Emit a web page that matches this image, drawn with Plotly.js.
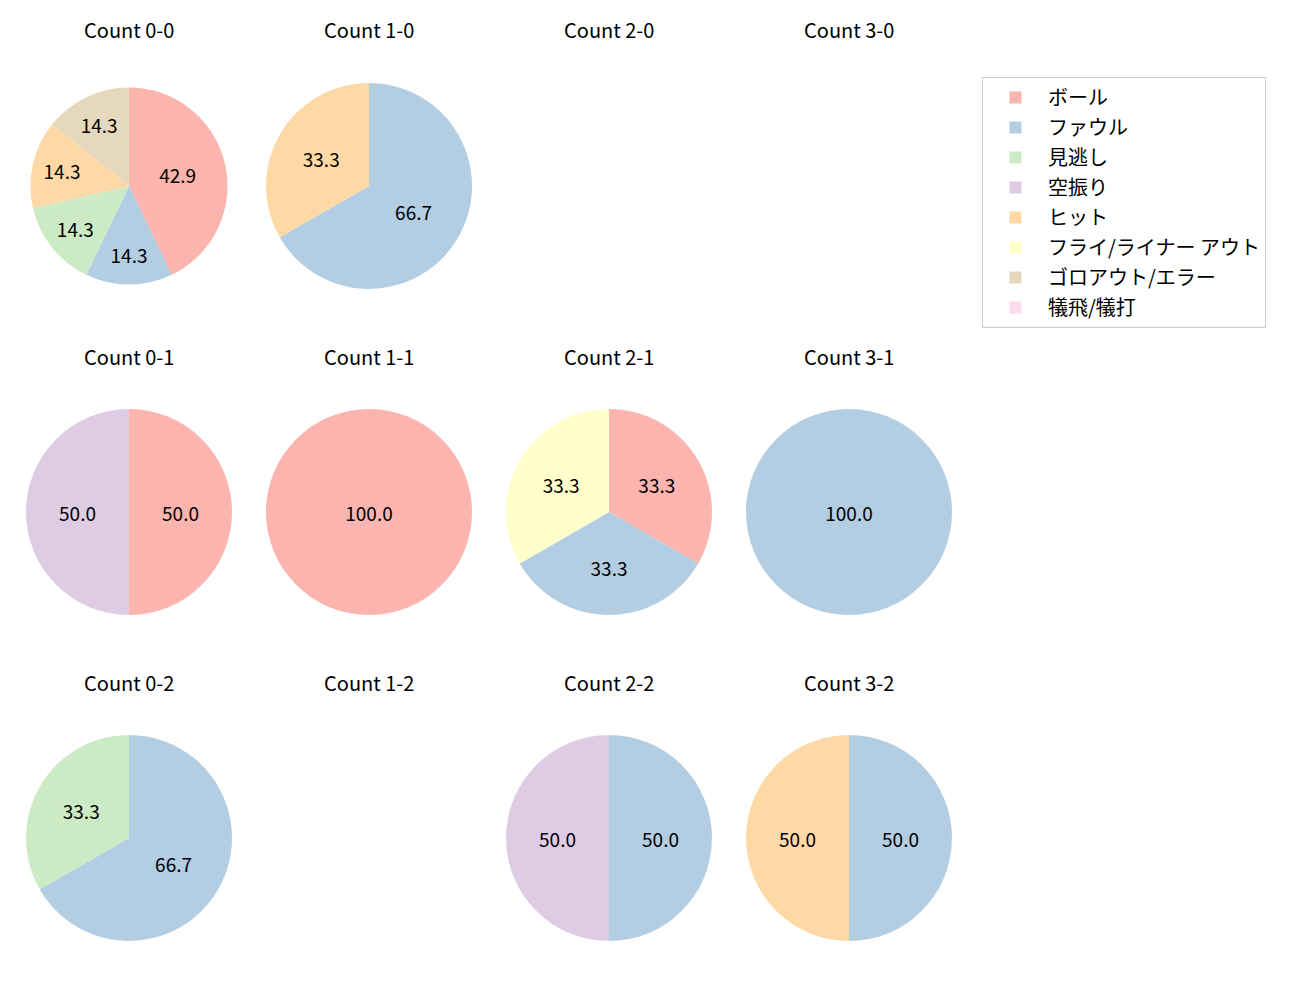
<!DOCTYPE html>
<html><head><meta charset="utf-8">
<script src="https://cdn.plot.ly/plotly-3.0.1.min.js"></script>
<style>body{margin:0;background:#fff}#chart{width:1300px;height:1000px}</style>
</head><body><div id="chart"></div>
<script>
// Categories (legend order)
const categories = ['ボール','ファウル','見逃し','空振り','ヒット','フライ/ライナー アウト','ゴロアウト/エラー','犠飛/犠打'];
const colors = ['#fbb4ae','#b3cde3','#ccebc5','#decbe4','#fed9a6','#ffffcc','#e5d8bd','#fddaec'];
// Count titles per grid cell (row, col)
const countTitles = [
  ['Count 0-0','Count 1-0','Count 2-0','Count 3-0'],
  ['Count 0-1','Count 1-1','Count 2-1','Count 3-1'],
  ['Count 0-2','Count 1-2','Count 2-2','Count 3-2']
];
// Percent values per count, in category order (null = no pie)
const count00 = [42.9,14.3,14.3,0,14.3,0,14.3,0];
const count10 = [0,66.7,0,0,33.3,0,0,0];
const count20 = null;
const count30 = null;
const count01 = [50.0,0,0,50.0,0,0,0,0];
const count11 = [100.0,0,0,0,0,0,0,0];
const count21 = [33.3,33.3,0,0,0,33.3,0,0];
const count31 = [0,100.0,0,0,0,0,0,0];
const count02 = [0,66.7,33.3,0,0,0,0,0];
const count12 = null;
const count22 = [0,50.0,0,50.0,0,0,0,0];
const count32 = [0,50.0,0,0,50.0,0,0,0];

const grid = [
  [count00,count10,count20,count30],
  [count01,count11,count21,count31],
  [count02,count12,count22,count32]
];

// layout geometry (pixels)
const W=1300,H=1000;
const colCenters=[129,369,609,849];
const rowCenters=[186,512,838];
const titleY=[29,356,682];
const R=103;

const traces=[];
const annotations=[];
for(let r=0;r<3;r++){
  for(let c=0;c<4;c++){
    annotations.push({text:countTitles[r][c],x:colCenters[c]/W,y:1-titleY[r]/H,xref:'paper',yref:'paper',
      showarrow:false,xanchor:'center',yanchor:'middle',font:{size:20,color:'#000'}});
    const vals=grid[r][c];
    if(!vals) continue;
    const rad=(r===0&&c===0)?98.5:R;
    const cx=colCenters[c], cy=rowCenters[r];
    traces.push({
      type:'pie',labels:categories,values:vals,sort:false,direction:'clockwise',rotation:0,
      marker:{colors:colors,line:{width:0}},
      text:vals.map(v=>v>0?v.toFixed(1):''),textinfo:'text',textposition:'inside',
      insidetextorientation:'horizontal',
      textfont:{size:19,color:'#000'},hoverinfo:'label+text',showlegend:false,
      domain:{x:[(cx-rad)/W,(cx+rad)/W],y:[1-(cy+rad)/H,1-(cy-rad)/H]}
    });
  }
}
// legend entries
categories.forEach((cat,i)=>{
  traces.push({type:'bar',x:[null],y:[null],name:cat,marker:{color:colors[i]},legendgroup:'g'+i,showlegend:true,hoverinfo:'skip'});
});

const layout={
  width:W,height:H,margin:{l:0,r:0,t:0,b:0},paper_bgcolor:'#fff',plot_bgcolor:'rgba(0,0,0,0)',
  font:{family:'"Noto Sans CJK JP", "Noto Sans", sans-serif',color:'#000'},
  xaxis:{visible:false,domain:[0.999,1]},yaxis:{visible:false,domain:[0.999,1]},
  showlegend:true,
  legend:{x:982/W,y:1-77/H,xanchor:'left',yanchor:'top',bordercolor:'#cccccc',borderwidth:1,
    font:{size:20},tracegroupgap:1,itemwidth:55,traceorder:'grouped'},
  annotations:annotations
};
Plotly.newPlot('chart',traces,layout,{displayModeBar:false,staticPlot:true});
</script></body></html>
